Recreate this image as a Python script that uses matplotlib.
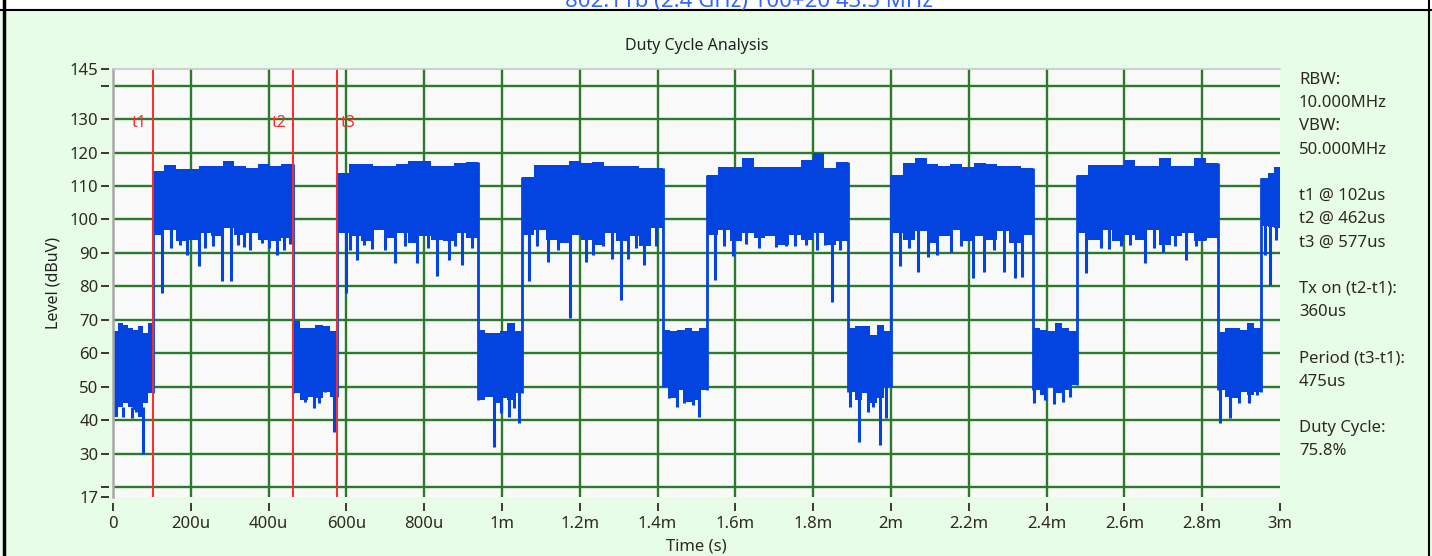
import numpy as np
import matplotlib.pyplot as plt
from matplotlib.lines import Line2D
from matplotlib.patches import Rectangle

# burst edges in microseconds (off / on alternating, starting with off)
burst_edges = [0, 102, 462, 577, 938, 1052, 1413, 1526, 1889, 2001, 2364, 2477, 2840, 2952, 3000]

# upper envelope of each burst (dBuV)
burst_top = [
    [66.5, 69, 68.5, 67.5, 67, 68, 66, 69],
    [114.5, 116.3, 115, 115.2, 116, 116, 117.5, 116, 115.5, 116.5, 116, 116.5],
    [69.5, 67.5, 67.5, 68.5, 68, 66.5],
    [113.8, 116.5, 116.5, 116, 116, 116.5, 117.5, 117.5, 116, 116, 117, 117.3],
    [67, 66, 66, 66.5, 69, 66.5],
    [112.8, 116.3, 116.3, 116.3, 117.5, 116.8, 117.3, 116, 116, 116, 115.5, 115.5],
    [66.8, 66.5, 67, 67.5, 66.5, 67.5],
    [113.3, 115.8, 115.8, 118.3, 115.8, 115.8, 115.8, 115.8, 117.8, 119.8, 115.3, 117.3],
    [67.5, 68, 68, 65.5, 68.3, 66.5],
    [113.3, 116.8, 118.3, 116.5, 116, 116.5, 115.8, 116.8, 116.5, 116, 116, 115.5],
    [67.4, 66.8, 66.5, 69, 67.5, 66.5],
    [113.3, 116.3, 116.3, 116.3, 117.8, 116, 116, 118.3, 116, 116, 118.3, 116.8],
    [66.4, 67.5, 67.5, 67, 69, 67.5],
    [112.5, 114, 115.8],
]

# lower edge of the solid body of each burst
burst_bottom = [
    [41, 44, 45, 44, 43, 41, 45, 48],
    [95.5, 97, 93.5, 94, 96, 95, 97.5, 95.5, 96, 94, 93.5, 94.5],
    [48, 46, 47, 46.5, 48.5, 47],
    [96, 95, 93.5, 97, 94.5, 96, 93, 95, 94, 93.5, 96, 94.5],
    [46, 47, 45, 46.5, 46, 48],
    [95.5, 97, 94, 93, 95.5, 94, 92.5, 96, 93.5, 95, 92, 97.5],
    [50, 46.5, 49, 45.5, 46, 49],
    [95.5, 97, 93.5, 96, 94.5, 95, 92.5, 95.5, 94, 96, 92.5, 93.5],
    [48.5, 46, 48, 45, 46.5, 50],
    [96, 94, 96.5, 93, 95, 97, 93.5, 95, 94, 96.5, 93, 95.5],
    [49, 47.5, 50, 48, 49, 50.5],
    [96, 94, 97, 93.5, 95.5, 94, 97, 92.5, 95, 96, 93.5, 94.5],
    [49, 47, 46.5, 48.5, 47.5, 48.5],
    [98, 97.8, 97.5],
]

# downward spikes (time us, level dBuV)
spike_t = [8, 25, 48, 60, 77, 92,
           125, 150, 172, 190, 221, 237, 258, 280, 304, 322, 336, 352, 383, 402, 421, 440, 456,
           494, 516, 530, 546, 567,
           599, 610, 627, 645, 666, 700, 726, 750, 782, 810, 833, 864, 880, 898, 924,
           979, 997, 1018, 1030, 1044,
           1070, 1090, 1117, 1145, 1175, 1216, 1233, 1260, 1282, 1306, 1325, 1345, 1364, 1395,
           1430, 1450, 1468, 1490, 1506,
           1548, 1570, 1595, 1627, 1660, 1705, 1730, 1752, 1782, 1810, 1830, 1849, 1868,
           1895, 1918, 1941, 1955, 1971, 1988,
           2022, 2045, 2070, 2095, 2117, 2155, 2180, 2211, 2239, 2265, 2291, 2319, 2337,
           2368, 2395, 2420, 2443, 2460,
           2500, 2520, 2540, 2561, 2590, 2615, 2652, 2675, 2700, 2730, 2758, 2785, 2808,
           2846, 2872, 2894, 2920, 2940,
           2962, 2975, 2990]
spike_v = [42, 41, 40.5, 42.5, 30, 44,
           78, 91.5, 92.5, 89.5, 86, 91.5, 92, 81.5, 81.5, 92.5, 91.8, 91, 93, 91.4, 89.4, 91, 92.8,
           45.5, 43.7, 45, 48.5, 36.5,
           78, 91, 88, 92.5, 91.3, 91, 87, 92, 87, 91.5, 83, 88, 92, 86.5, 91.4,
           32, 42, 41, 43.5, 39,
           81.5, 92, 87.4, 91, 70.4, 87.4, 89.3, 92, 88.3, 76, 88.3, 91.5, 86.4, 92,
           46.5, 44, 45, 44.5, 41,
           82, 92, 89, 92.8, 91.5, 91.8, 92, 92, 92.3, 91, 92.5, 75.4, 90.8,
           44, 33.5, 42.5, 44, 32.5, 40.5,
           86, 91.5, 84.4, 88.9, 89.4, 90.4, 92, 82.6, 84.4, 91, 84.4, 82.4, 82.9,
           45, 46, 44.7, 45.5, 47,
           84, 95.3, 91.5, 91.3, 92, 92.3, 87, 91.5, 90.4, 92, 88, 92, 93.8,
           39, 40.5, 45, 45, 47.5,
           89.4, 80.4, 94]

cursor_names = ['t1', 't2', 't3']
cursor_t = [102, 462, 577]

xtick_vals = list(range(0, 3001, 200))
xtick_labels = ['0', '200u', '400u', '600u', '800u', '1m', '1.2m', '1.4m', '1.6m',
                '1.8m', '2m', '2.2m', '2.4m', '2.6m', '2.8m', '3m']
ytick_vals = [17, 20, 30, 40, 50, 60, 70, 80, 90, 100, 110, 120, 130, 140, 145]
ytick_labels = ['17', '', '30', '40', '50', '60', '70', '80', '90', '100', '110',
                '120', '130', '', '145']

info_lines = ['RBW:', '10.000MHz', 'VBW:', '50.000MHz', '',
              't1 @ 102us', 't2 @ 462us', 't3 @ 577us', '',
              'Tx on (t2-t1):', '360us', '',
              'Period (t3-t1):', '475us', '',
              'Duty Cycle:', '75.8%']

plt.rcParams['font.family'] = ['Noto Sans', 'DejaVu Sans']
txt_col = '#2e2a1c'
blue = '#0343df'
grid_col = '#2b7a2b'

W, H = 1432, 556
fig = plt.figure(figsize=(W / 100, H / 100), dpi=100)
fig.patch.set_facecolor('#e8fde8')

# white header strip with clipped caption and black frame lines
fig.patches.append(Rectangle((0, 1 - 9 / H), 1, 9 / H, transform=fig.transFigure,
                             facecolor='white', edgecolor='none', zorder=0))
fig.add_artist(Line2D([0, 1], [1 - 10 / H, 1 - 10 / H], color='black', lw=1.5))
fig.add_artist(Line2D([4 / W, 4 / W], [0, 1], color='black', lw=2.5))
fig.add_artist(Line2D([1429 / W, 1429 / W], [0, 1], color='black', lw=1.5))
fig.text(0.523, 1 - 1 / H, '802.11b (2.4 GHz) 100+20 43.5 MHz', color='#3366ff',
         fontsize=16, ha='center', va='center')

ax = fig.add_axes([113 / W, 1 - 497 / H, 1167 / W, 428 / H])
ax.set_facecolor('#f9f9f9')

# grid drawn only inside the frame
for x in xtick_vals[1:-1]:
    ax.axvline(x, color=grid_col, lw=1.7, zorder=1)
for y in ytick_vals[1:-1]:
    ax.axhline(y, color=grid_col, lw=1.7, zorder=1)

# signal bursts
for i in range(len(burst_top)):
    t0, t1 = burst_edges[i], burst_edges[i + 1]
    top = np.array(burst_top[i] + [burst_top[i][-1]])
    bot = np.array(burst_bottom[i] + [burst_bottom[i][-1]])
    tt = np.linspace(t0, t1, len(top))
    ax.fill_between(tt, bot, top, step='post', color=blue, lw=0, zorder=3)
    # edge into next burst
    if i + 1 < len(burst_top):
        lo = min(burst_bottom[i][-1], burst_bottom[i + 1][0], burst_top[i][-1], burst_top[i + 1][0])
        hi = max(burst_top[i][-1], burst_top[i + 1][0])
        ax.vlines(t1, lo, hi, color=blue, lw=2, zorder=3)

# spikes hang from the body of the burst they are in
for t, v in zip(spike_t, spike_v):
    k = np.searchsorted(burst_edges, t, side='right') - 1
    ax.vlines(t, v, burst_bottom[k][0] + 3, color=blue, lw=2.2, zorder=3)

# cursors
for name, t in zip(cursor_names, cursor_t):
    ax.axvline(t, color='#ff2a2a', lw=1.4, zorder=4)
    if name == 't3':
        ax.text(t + 8, 128.8, name, color='#ff2a2a', fontsize=11.5, ha='left', va='center')
    else:
        ax.text(t - 16, 128.8, name, color='#ff2a2a', fontsize=11.5, ha='right', va='center')

ax.set_xlim(0, 3000)
ax.set_ylim(17, 145)
ax.set_xticks(xtick_vals)
ax.set_xticklabels(xtick_labels)
ax.set_yticks(ytick_vals)
ax.set_yticklabels(ytick_labels)

for s in ['right', 'top', 'bottom', 'left']:
    ax.spines[s].set_visible(False)
ax.spines['left'].set_position(('outward', 3))
ax.spines['bottom'].set_position(('outward', 4))
ax.add_line(Line2D([0, 0], [0, 1], transform=ax.transAxes, color='#a8a8a8', lw=1.8, clip_on=False, zorder=5))
ax.add_line(Line2D([0, 1], [1, 1], transform=ax.transAxes, color='#c8c8c8', lw=1.2, clip_on=False, zorder=5))

ax.tick_params(axis='both', direction='out', length=5.5, width=1.3, color=txt_col,
               labelcolor=txt_col, labelsize=12)
ax.tick_params(axis='y', pad=2)
ax.tick_params(axis='x', pad=4)

ax.set_title('Duty Cycle Analysis', fontsize=11.5, color='#222222', pad=14)
ax.set_xlabel('Time (s)', fontsize=12, color=txt_col, labelpad=5)
ax.set_ylabel('Level (dBuV)', fontsize=11.5, color='#222222', labelpad=6)

# info panel on the right
for j, line in enumerate(info_lines):
    fig.text(1299 / W, 1 - (80 + 23.2 * j) / H, line, fontsize=12, color=txt_col,
             ha='left', va='center')

fig.savefig('out.png', dpi=100, facecolor=fig.get_facecolor())
